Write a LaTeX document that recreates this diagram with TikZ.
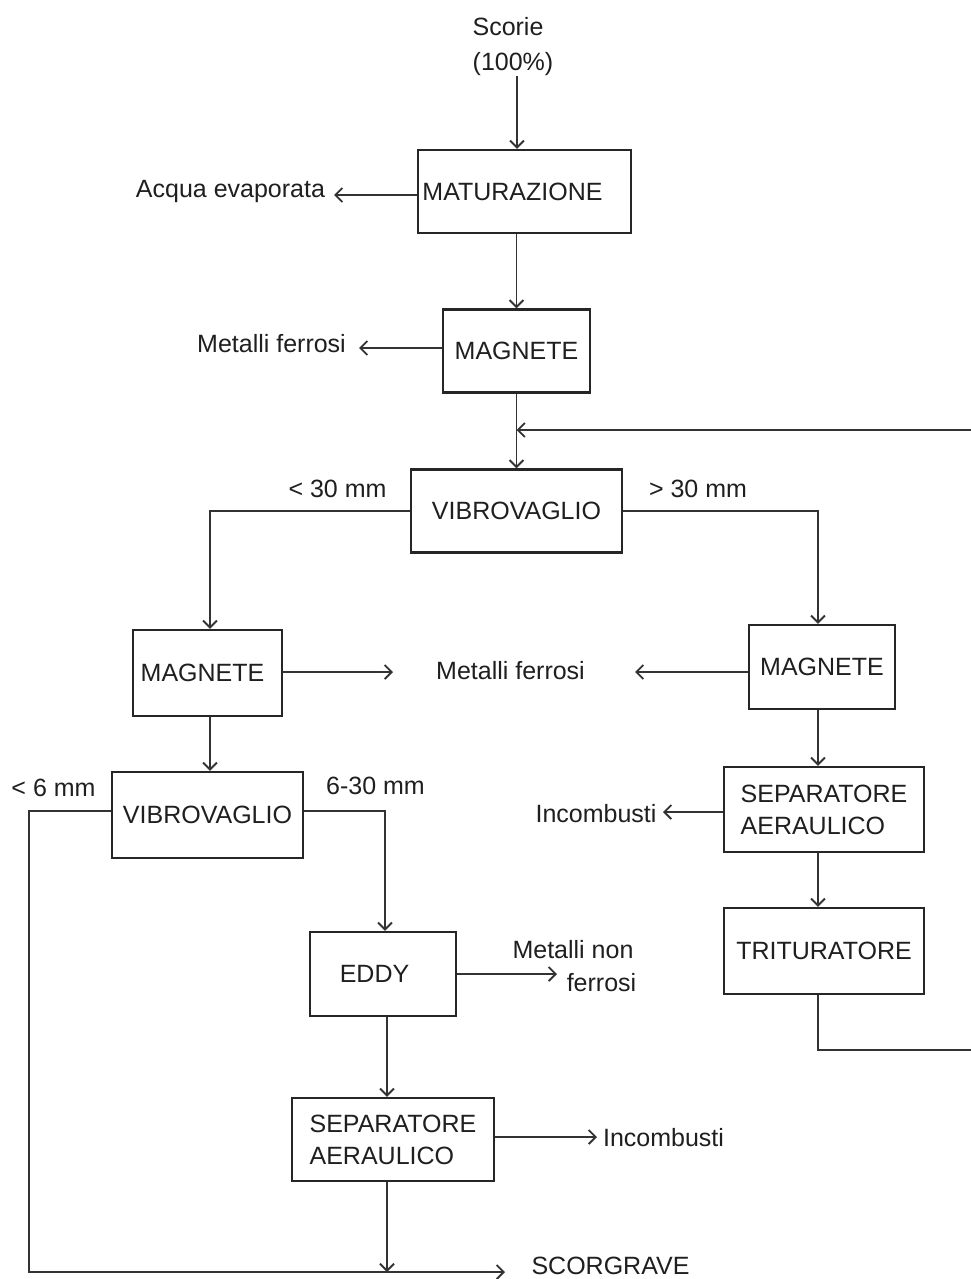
\documentclass[tikz,border=0pt]{standalone}
\usepackage{fontspec}
\setmainfont{Liberation Sans}
\usetikzlibrary{arrows.meta,calc}
\begin{document}
\begin{tikzpicture}[x=1pt,y=-1pt,
  every node/.style={font=\fontsize{25}{32}\selectfont, text=black!88},
  box/.style={draw=black!85, line width=2.2pt, inner sep=0pt, align=left},
  lbl/.style={inner sep=0pt, anchor=base},
  conn/.style={draw=black!80, line width=1.9pt},
  arr/.style={conn, -{Straight Barb[length=7pt,width=14pt]}}]
\useasboundingbox (0,0) rectangle (971,1279);
\fill[white] (0,0) rectangle (971,1279);

% boxes
\node[box, minimum width=213pt, minimum height=83pt] (mat) at (524.5,191.5) {MATURAZIONE\hspace{24pt}};
\node[box, minimum width=147pt, minimum height=83pt] (mag1) at (516.5,351) {MAGNETE};
\node[box, minimum width=211pt, minimum height=83pt] (vib1) at (516.5,511) {VIBROVAGLIO};
\node[box, minimum width=149pt, minimum height=86pt] (mag2) at (207.5,673) {MAGNETE\hspace{10pt}};
\node[box, minimum width=146pt, minimum height=84pt] (mag3) at (822,667) {MAGNETE};
\node[box, minimum width=191pt, minimum height=86pt] (vib2) at (207.5,815) {VIBROVAGLIO};
\node[box, minimum width=200pt, minimum height=85pt] (sep1) at (824,809.5) {SEPARATORE\\AERAULICO};
\node[box, minimum width=200pt, minimum height=86pt] (trit) at (824,951) {TRITURATORE};
\node[box, minimum width=146pt, minimum height=84pt] (eddy) at (383,974) {EDDY\hspace{17pt}};
\node[box, minimum width=202pt, minimum height=83pt] (sep2) at (393,1139.5) {SEPARATORE\\AERAULICO};

% labels
\node[lbl] (scorie) at (508,36) {Scorie};
\node[lbl] (pct) at (513,71) {(100\%)};
\node[lbl] (acqua) at (230.5,197) {Acqua evaporata};
\node[lbl] (mf1) at (271.5,352) {Metalli ferrosi};
\node[lbl] (lt30) at (337.5,497) {< 30 mm};
\node[lbl] (gt30) at (698,497) {> 30 mm};
\node[lbl] (mf2) at (510.5,679) {Metalli ferrosi};
\node[lbl] (lt6) at (53.5,796) {< 6 mm};
\node[lbl] (r630) at (375.5,794) {6-30 mm};
\node[lbl] (inc1) at (596,822) {Incombusti};
\node[lbl] (mnf1) at (573,958) {Metalli non};
\node[lbl] (mnf2) at (601.5,991) {ferrosi};
\node[lbl] (inc2) at (663.5,1146) {Incombusti};
\node[lbl] (scorgrave) at (610.5,1274) {SCORGRAVE};

% helper coordinates
\coordinate (tIn) at (517,76);
\coordinate (tAcqua) at (334,195);
\coordinate (tMf1) at (359,348);
\coordinate (rEdge) at (971,430);
\coordinate (rEdge2) at (971,1050);
\coordinate (colL) at (210,0);
\coordinate (colR) at (818,0);
\coordinate (colF) at (29,0);
\coordinate (colE) at (385,0);
\coordinate (colS) at (387,0);
\coordinate (v2y) at (0,811);
\coordinate (tMf2a) at (393,672);
\coordinate (tMf2b) at (635,672);
\coordinate (tScor) at (505,1272);
\coordinate (tMnf) at (557,974);
\coordinate (tInc2) at (597,1137);
\coordinate (tInc1) at (663,812);

% connectors
\draw[arr] (tIn) -- (tIn |- mat.north);
\draw[arr] (mat.west |- tAcqua) -- (tAcqua);
\draw[arr] (mag1.north |- mat.south) -- (mag1.north);
\draw[arr] (mag1.west |- tMf1) -- (tMf1);
\draw[arr] (mag1.south) -- (vib1.north);
\draw[arr] (rEdge) -- (rEdge -| mag1.south);
\draw[arr] (vib1.west) -- (colL |- vib1.west) -- (colL |- mag2.north);
\draw[arr] (vib1.east) -- (colR |- vib1.east) -- (colR |- mag3.north);
\draw[arr] (mag2.east |- tMf2a) -- (tMf2a);
\draw[arr] (mag3.west |- tMf2b) -- (tMf2b);
\draw[arr] (colL |- mag2.south) -- (colL |- vib2.north);
\draw[arr] (vib2.west |- v2y) -- (colF |- v2y) -- (colF |- tScor) -- (tScor);
\draw[arr] (vib2.east |- v2y) -- (colE |- v2y) -- (colE |- eddy.north);
\draw[arr] (eddy.east |- tMnf) -- (tMnf);
\draw[arr] (colS |- eddy.south) -- (colS |- sep2.north);
\draw[arr] (sep2.east |- tInc2) -- (tInc2);
\draw[arr] (colS |- sep2.south) -- (colS |- tScor);
\draw[arr] (colR |- mag3.south) -- (colR |- sep1.north);
\draw[arr] (sep1.west |- tInc1) -- (tInc1);
\draw[arr] (colR |- sep1.south) -- (colR |- trit.north);
\draw[conn] (colR |- trit.south) -- (colR |- rEdge2) -- (rEdge2);
\end{tikzpicture}
\end{document}
